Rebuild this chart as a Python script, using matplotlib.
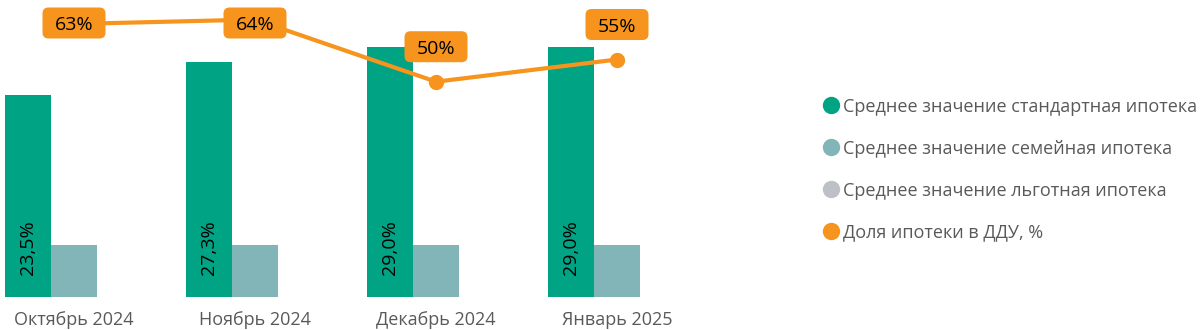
import matplotlib
matplotlib.use("Agg")
import matplotlib.pyplot as plt
import numpy as np
from matplotlib.lines import Line2D
from matplotlib.patches import FancyBboxPatch
from matplotlib.transforms import IdentityTransform

plt.rcParams["font.family"] = ["Open Sans", "DejaVu Sans"]

# --- data ---
months = ["Октябрь 2024", "Ноябрь 2024", "Декабрь 2024", "Январь 2025"]
standard_rate = [23.5, 27.3, 29.0, 29.0]
family_rate = [6.0, 6.0, 6.0, 6.0]
preferential_rate = [0.0, 0.0, 0.0, 0.0]
mortgage_share = [63, 64, 50, 55]
series_names = [
    "Среднее значение стандартная ипотека",
    "Среднее значение семейная ипотека",
    "Среднее значение льготная ипотека",
    "Доля ипотеки в ДДУ, %",
]

# --- style ---
C_STANDARD = "#00A383"
C_FAMILY = "#82B5B8"
C_PREF = "#BDC1C5"
C_SHARE = "#F7941D"
C_TEXT = "#595959"

W, H = 1203, 330
fig = plt.figure(figsize=(W / 100, H / 100), dpi=100)

ax_right_px = 708
ax = fig.add_axes([0, 33 / H, ax_right_px / W, 297 / H])
ax2 = ax.twinx()

x = np.arange(len(months))
bw = 0.254
group_px = 181.0
ax.set_xlim(-74 / group_px, (ax_right_px - 74) / group_px)
ax.set_ylim(0, 34.5)
ax2.set_ylim(1.53, 68.4)

ax.bar(x - bw, standard_rate, bw, color=C_STANDARD, zorder=2)
ax.bar(x, family_rate, bw, color=C_FAMILY, zorder=2)
ax.bar(x + bw, preferential_rate, bw, color=C_PREF, zorder=2)

# value labels inside the standard-rate bars
for xi, v in zip(x - bw, standard_rate):
    ax.annotate(f"{v:.1f}%".replace(".", ","), xy=(xi, 0), xytext=(0, 16),
                textcoords="offset points", rotation=90, ha="center",
                va="bottom", fontsize=14, color="black", zorder=3)

ax2.plot(x, mortgage_share, color=C_SHARE, lw=3, marker="o", ms=10,
         zorder=4, solid_capstyle="round")

# percentage callouts above the share line
fig.canvas.draw()
for xi, v in zip(x, mortgage_share):
    px, py = ax2.transData.transform((xi, v))
    cy = min(py + 35, H - 23)
    bw_px, bh_px = 63, 31
    box = FancyBboxPatch((px - bw_px / 2, cy - bh_px / 2), bw_px, bh_px,
                         boxstyle="round,pad=0,rounding_size=6",
                         transform=IdentityTransform(), fc=C_SHARE,
                         ec="none", zorder=5)
    fig.add_artist(box)
    fig.text(px, cy - 7, f"{v}%", transform=IdentityTransform(),
             ha="center", va="baseline", fontsize=14, color="black",
             zorder=6)

for a in (ax, ax2):
    for s in a.spines.values():
        s.set_visible(False)
    a.set_yticks([])
ax.set_xticks(x)
ax.set_xticklabels(months, fontsize=13, color=C_TEXT)
ax.tick_params(axis="x", length=0, pad=10)

handles = [Line2D([], [], marker="o", ls="", ms=11.5, color=c)
           for c in (C_STANDARD, C_FAMILY, C_PREF, C_SHARE)]
fig.legend(handles, series_names, loc="upper left",
           bbox_to_anchor=(821.5 / W, 1 - 97.5 / H), frameon=False,
           fontsize=13, labelcolor=C_TEXT, handlelength=1.0,
           handletextpad=0.2, labelspacing=1.33, borderpad=0,
           borderaxespad=0)

fig.savefig("out.png", dpi=100)
